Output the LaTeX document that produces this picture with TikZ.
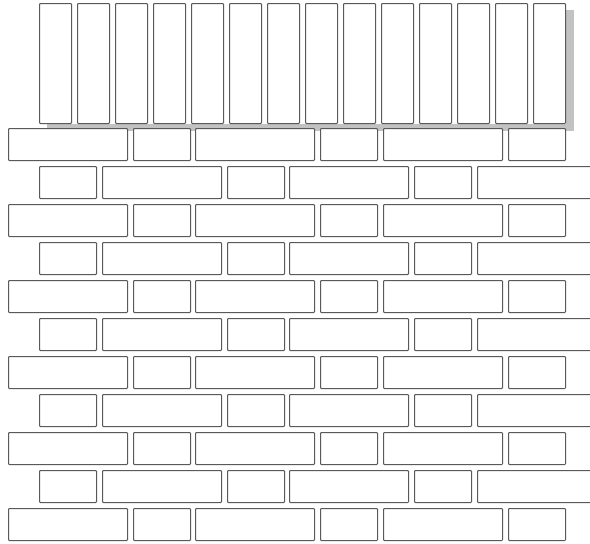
\documentclass[tikz,border=0pt]{standalone}
\usetikzlibrary{shadows, fit, backgrounds}

\begin{document}
\begin{tikzpicture}[
    x=1pt, y=-1pt,
    % Styles
    brick/.style={rectangle, draw=black!65, fill=white, line width=1pt, rounded corners=0.8pt, inner sep=0pt, minimum height=32pt, anchor=north west},
    shortbrick/.style={brick, minimum width=57pt},
    longbrick/.style={brick, minimum width=119pt},
    post/.style={brick, minimum width=32pt, minimum height=120pt},
    postshadow/.style={rectangle, fill=white, inner sep=0pt, drop shadow={shadow xshift=8pt, shadow yshift=-7pt, fill=black!24, opacity=1}}
]
\clip (0,0) rectangle (590,544);

% --- Upright posts (top) ---
\foreach \i in {0,...,13}
    \node[post] (post\i) at ({39+38*\i},3) {};

\begin{scope}[on background layer]
    \node[postshadow, fit=(post0) (post13)] (postrow) {};
\end{scope}

% --- Brick courses, long brick first ---
\foreach \k in {0,...,5}
    \foreach \x/\kind [count=\j] in {8/long, 133/short, 195/long, 320/short, 383/long, 508/short}
        \node[\kind brick] (brickA\k\j) at (\x,{128+76*\k}) {};

% --- Brick courses, short brick first ---
\foreach \k in {0,...,4}
    \foreach \x/\kind [count=\j] in {39/short, 102/long, 227/short, 289/long, 414/short, 477/long}
        \node[\kind brick] (brickB\k\j) at (\x,{166+76*\k}) {};

\end{tikzpicture}
\end{document}
